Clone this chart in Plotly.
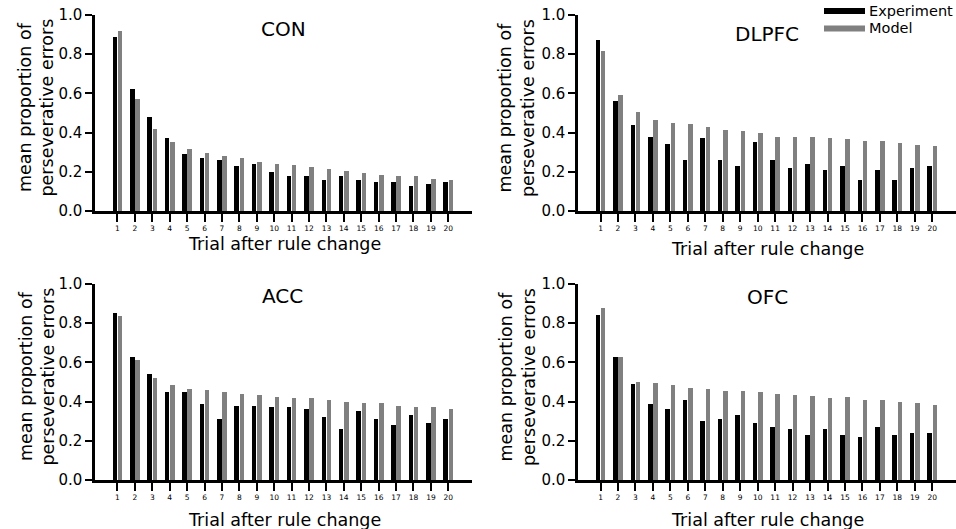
import plotly.graph_objects as go

W, H = 956, 529

trials = list(range(1, 21))
tick_labels = [str(t) for t in trials]
y_ticks = [0.0, 0.2, 0.4, 0.6, 0.8, 1.0]

panel_names = ["CON", "DLPFC", "ACC", "OFC"]

con_exp = [0.89, 0.62, 0.48, 0.37, 0.29, 0.27, 0.26, 0.23, 0.24, 0.20,
           0.18, 0.18, 0.16, 0.18, 0.16, 0.15, 0.15, 0.13, 0.14, 0.15]
con_model = [0.92, 0.57, 0.42, 0.35, 0.315, 0.295, 0.28, 0.27, 0.25, 0.24,
             0.233, 0.222, 0.215, 0.206, 0.196, 0.186, 0.18, 0.178, 0.165, 0.16]

dlpfc_exp = [0.87, 0.56, 0.44, 0.38, 0.34, 0.26, 0.37, 0.26, 0.23, 0.35,
             0.26, 0.22, 0.24, 0.21, 0.23, 0.16, 0.21, 0.16, 0.22, 0.23]
dlpfc_model = [0.815, 0.59, 0.503, 0.464, 0.447, 0.442, 0.428, 0.414, 0.406, 0.399,
               0.38, 0.379, 0.378, 0.373, 0.368, 0.357, 0.359, 0.348, 0.336, 0.331]

acc_exp = [0.85, 0.63, 0.54, 0.45, 0.45, 0.39, 0.31, 0.38, 0.38, 0.37,
           0.37, 0.36, 0.32, 0.26, 0.35, 0.31, 0.28, 0.33, 0.29, 0.31]
acc_model = [0.835, 0.61, 0.521, 0.484, 0.463, 0.457, 0.451, 0.437, 0.434, 0.426,
             0.417, 0.42, 0.406, 0.40, 0.395, 0.391, 0.378, 0.374, 0.374, 0.362]

ofc_exp = [0.84, 0.63, 0.49, 0.39, 0.36, 0.41, 0.30, 0.31, 0.33, 0.29,
           0.27, 0.26, 0.23, 0.26, 0.23, 0.22, 0.27, 0.23, 0.24, 0.24]
ofc_model = [0.877, 0.628, 0.502, 0.497, 0.483, 0.471, 0.466, 0.454, 0.454, 0.449,
             0.44, 0.435, 0.43, 0.42, 0.422, 0.406, 0.406, 0.40, 0.391, 0.381]

exp_series = [con_exp, dlpfc_exp, acc_exp, ofc_exp]
model_series = [con_model, dlpfc_model, acc_model, ofc_model]

FONT = "DejaVu Sans"
EXP_COLOR = "#000000"
MODEL_COLOR = "#808080"


def px(x):
    return x / W


def py(y):
    return 1 - y / H


# panel geometry in pixels: (left, right, top, bottom)
geom = [(95, 472, 15, 211), (578, 956, 15, 211),
        (95, 472, 284, 480), (578, 956, 284, 480)]
title_pos = [(283, 29.5), (767, 33.5), (282, 296), (767, 296.5)]
xtitle_pos = [(284, 243.5), (767, 249), (284, 520), (767, 520)]
ytitle_x = [36.5, 517, 36.5, 517]

fig = go.Figure()
layout = dict(
    template="none",
    width=W, height=H,
    margin=dict(l=0, r=0, t=0, b=0, pad=0),
    paper_bgcolor="white", plot_bgcolor="white",
    showlegend=False,
    bargap=0,
    font=dict(family=FONT, color="black"),
)
annotations = []
shapes = []

for i in range(4):
    xa = "x" if i == 0 else f"x{i+1}"
    ya = "y" if i == 0 else f"y{i+1}"
    fig.add_trace(go.Bar(x=trials, y=exp_series[i], name="Experiment",
                         marker=dict(color=EXP_COLOR, line=dict(width=0)),
                         width=0.26, offset=-0.28, xaxis=xa, yaxis=ya))
    fig.add_trace(go.Bar(x=trials, y=model_series[i], name="Model",
                         marker=dict(color=MODEL_COLOR, line=dict(width=0)),
                         width=0.26, offset=0.02, xaxis=xa, yaxis=ya))
    l, r, t, b = geom[i]
    xkey = "xaxis" if i == 0 else f"xaxis{i+1}"
    ykey = "yaxis" if i == 0 else f"yaxis{i+1}"
    layout[xkey] = dict(
        domain=[px(l), px(r)], anchor=ya, range=[-0.29, 21.36],
        automargin=False,
        tickmode="array", tickvals=trials, ticktext=tick_labels,
        ticks="outside", ticklen=8, tickwidth=1.5, tickcolor="black",
        tickfont=dict(size=7.5, family=FONT, color="black"),
        showline=True, linecolor="black", linewidth=2.5,
        showgrid=False, zeroline=False, fixedrange=True,
    )
    layout[ykey] = dict(
        domain=[py(b), py(t)], anchor=xa, range=[0, 1],
        automargin=False,
        tickmode="array", tickvals=y_ticks, tickformat=".1f",
        ticks="outside", ticklen=7, tickwidth=2, tickcolor="black",
        tickfont=dict(size=15, family=FONT, color="black"),
        showline=True, linecolor="black", linewidth=2.5,
        showgrid=False, zeroline=False, fixedrange=True,
    )
    tx, ty = title_pos[i]
    annotations.append(dict(text=panel_names[i], x=px(tx), y=py(ty),
                            xref="paper", yref="paper", showarrow=False,
                            xanchor="center", yanchor="middle",
                            font=dict(size=20, family=FONT, color="black")))
    xx, xy = xtitle_pos[i]
    annotations.append(dict(text="Trial after rule change", x=px(xx), y=py(xy),
                            xref="paper", yref="paper", showarrow=False,
                            xanchor="center", yanchor="middle",
                            font=dict(size=17.5, family=FONT, color="black")))
    annotations.append(dict(text="mean proportion of<br>perseverative errors",
                            x=px(ytitle_x[i]), y=py((t + b) / 2 - 5),
                            xref="paper", yref="paper", showarrow=False,
                            textangle=-90, xanchor="center", yanchor="middle",
                            font=dict(size=17.5, family=FONT, color="black")))

# legend (top-right)
legend_items = [("Experiment", EXP_COLOR, 11), ("Model", MODEL_COLOR, 28.5)]
for label, color, yy in legend_items:
    shapes.append(dict(type="line", xref="paper", yref="paper",
                       x0=px(824), x1=px(865), y0=py(yy), y1=py(yy),
                       line=dict(color=color, width=6)))
    annotations.append(dict(text=label, x=px(867), y=py(yy), xref="paper",
                            yref="paper", showarrow=False, xanchor="left",
                            yanchor="middle",
                            font=dict(size=14.5, family=FONT, color="black")))

layout["annotations"] = annotations
layout["shapes"] = shapes
fig.update_layout(**layout)
fig.write_html("out.html")
